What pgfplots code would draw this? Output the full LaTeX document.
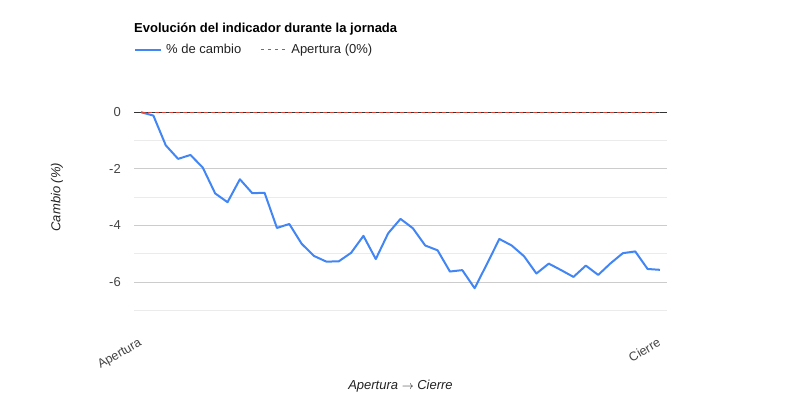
\documentclass[border=0pt]{standalone}
\usepackage{pgfplots}
\pgfplotsset{compat=1.18}
\usepackage{fontspec}
\setmainfont{Liberation Sans}
\definecolor{gblue}{HTML}{4285F4}
\definecolor{gred}{HTML}{DB4437}
\definecolor{majgrid}{HTML}{CCCCCC}
\definecolor{mingrid}{HTML}{EBEBEB}
\definecolor{ticktxt}{HTML}{444444}
\definecolor{labtxt}{HTML}{222222}
\pgfplotsset{legend image code/.code={\draw[#1] (0bp,3.5bp) -- (26bp,3.5bp);}}
\begin{document}
\begin{tikzpicture}
\path[use as bounding box] (0,0) rectangle (800bp,400bp);
\begin{axis}[
  at={(134bp,89.7bp)}, anchor=south west,
  scale only axis, width=533bp, height=226.4bp,
  font=\fontsize{13bp}{15bp}\selectfont,
  xmin=-0.57, xmax=42.57, ymin=-7, ymax=1,
  axis line style={draw=none}, tick style={draw=none},
  xtick={0,42}, xticklabels={Apertura,Cierre},
  xticklabel style={yshift=-27bp, xshift=-3bp, rotate=30, anchor=north east, inner sep=0pt, text=ticktxt, font=\fontsize{12.5bp}{15bp}\selectfont},
  ytick={-6,-4,-2,0}, yticklabels={{-6},{-4},{-2},{0}},
  minor ytick={-7,-5,-3,-1},
  yticklabel style={anchor=east, inner sep=0pt, xshift=-13bp, text=ticktxt},
  ymajorgrids, yminorgrids,
  major grid style={majgrid, line width=1bp},
  minor grid style={mingrid, line width=1bp},
  every axis y label/.style={at={(axis description cs:0,0.5)}, xshift=-77bp, rotate=90, anchor=center, font=\fontsize{13bp}{15bp}\selectfont\itshape, text=labtxt},
  every axis x label/.style={at={(axis description cs:0.5,0)}, yshift=-78.7bp, anchor=base, font=\fontsize{13bp}{15bp}\selectfont\itshape, text=labtxt},
  ylabel={Cambio (\%)},
  xlabel={Apertura $\rightarrow$ Cierre},
  legend columns=2,
  legend style={at={(0,1)}, anchor=south west, yshift=29bp, draw=none, fill=none, inner sep=0pt,
    nodes={inner sep=0pt, text=labtxt, anchor=base west},
    /tikz/every even column/.append style={column sep=19bp}},
  legend cell align=left,
  clip=false,
]
\addplot[draw=black!80, line width=1bp, forget plot] coordinates {(-0.57,0) (42.57,0)};
\addplot[gblue, line width=2bp, line join=round]
coordinates {
(0,0) (1,-0.12) (2,-1.17) (3,-1.65) (4,-1.51) (5,-1.96) (6,-2.87) (7,-3.18)
(8,-2.37) (9,-2.86) (10,-2.85) (11,-4.09) (12,-3.95) (13,-4.65) (14,-5.08)
(15,-5.28) (16,-5.27) (17,-4.97) (18,-4.37) (19,-5.19) (20,-4.28) (21,-3.77)
(22,-4.10) (23,-4.71) (24,-4.88) (25,-5.63) (26,-5.58) (27,-6.22) (28,-5.36)
(29,-4.48) (30,-4.71) (31,-5.09) (32,-5.70) (33,-5.35) (34,-5.58) (35,-5.82)
(36,-5.42) (37,-5.75) (38,-5.34) (39,-4.98) (40,-4.92) (41,-5.54) (42,-5.57)
};
\addlegendentry{\hspace{4bp}\% de cambio}
\addplot[gred, line width=1bp, dash pattern=on 3.5bp off 3.5bp]
coordinates {(0,0) (42,0)};
\addlegendentry{\hspace{4bp}Apertura (0\%)}
\node[anchor=base west, inner sep=0pt, font=\fontsize{13bp}{15bp}\selectfont\bfseries] at (rel axis cs:0,1) [yshift=51bp] {Evolución del indicador durante la jornada};
\end{axis}
\end{tikzpicture}
\end{document}
